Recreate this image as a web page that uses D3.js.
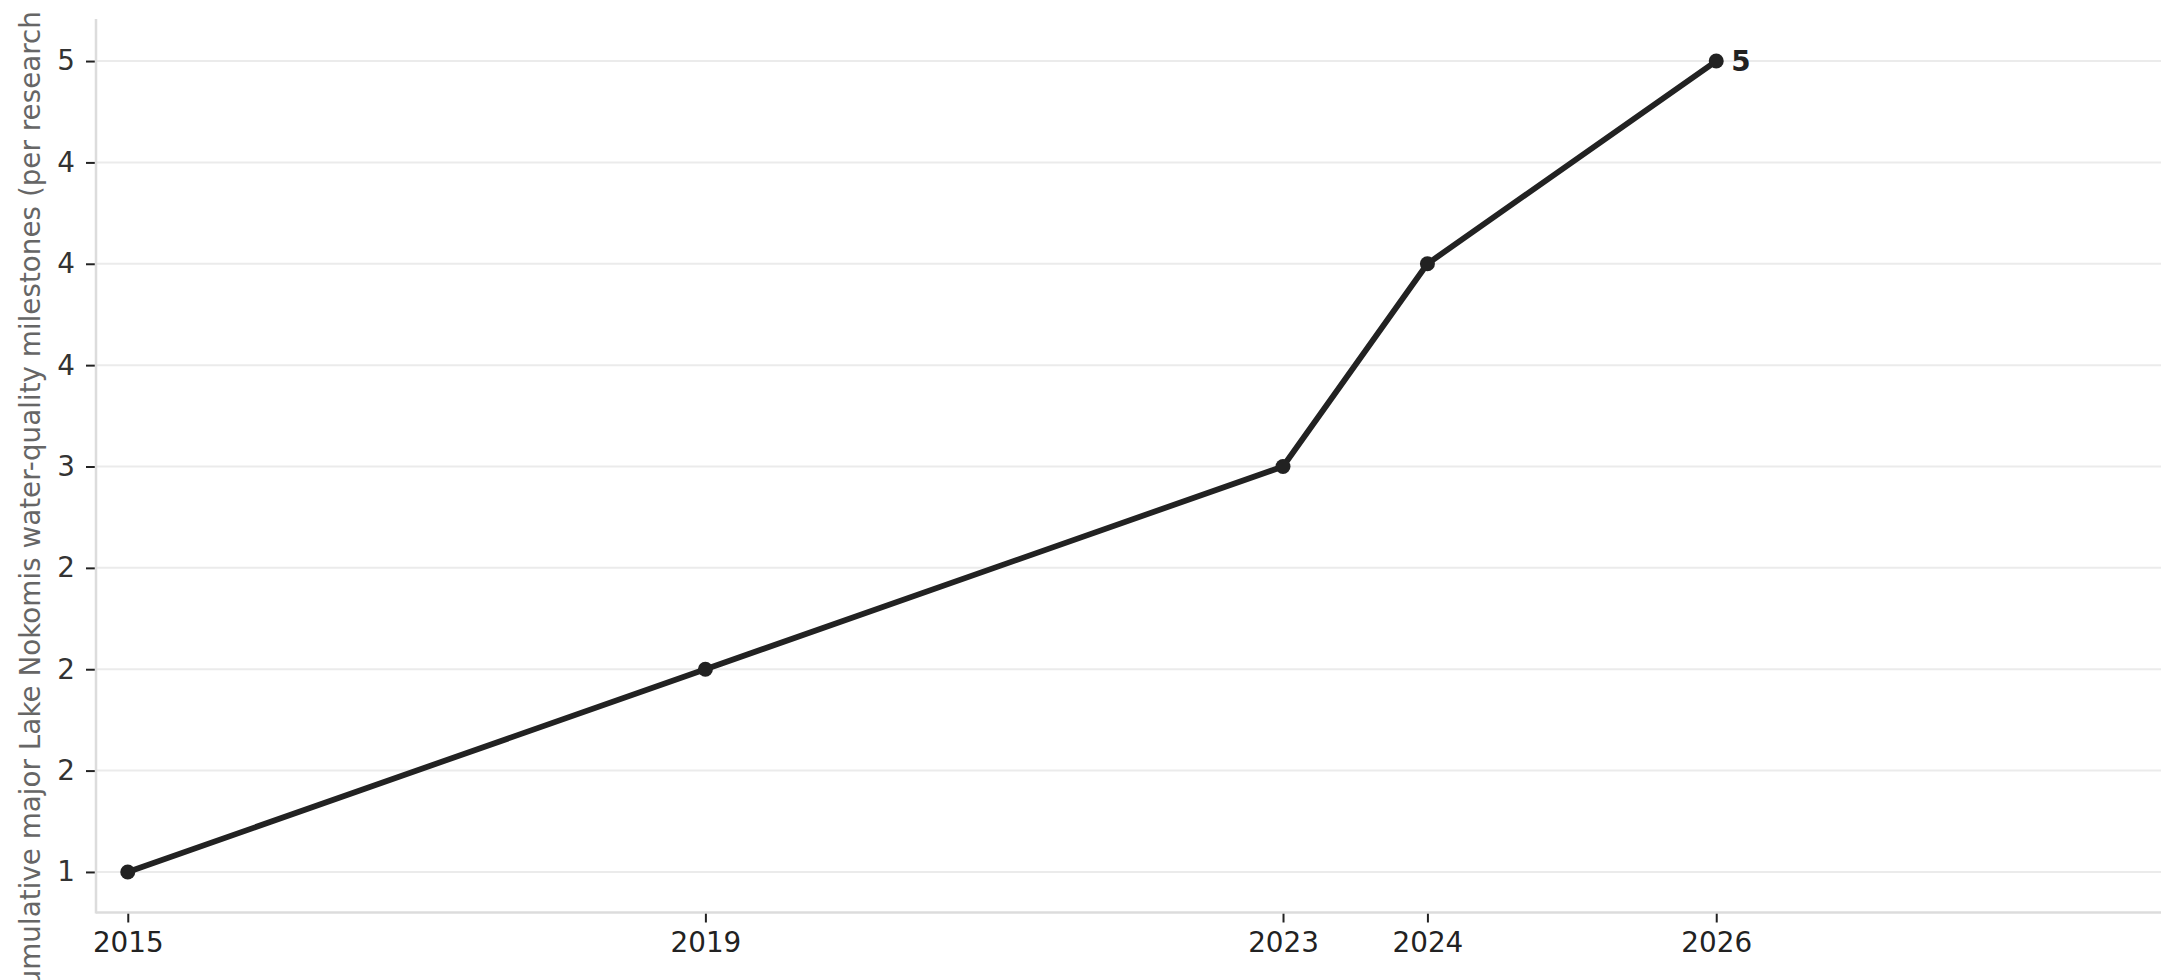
<!DOCTYPE html>
<html>
<head>
<meta charset="utf-8">
<script src="https://cdn.jsdelivr.net/npm/d3@7"></script>
<style>
  html, body { margin: 0; padding: 0; background: #fff; }
  svg { display: block; }
</style>
</head>
<body>
<svg id="chart" width="2179" height="980"></svg>
<script>
// ---- data ----
const years = [2015, 2019, 2023, 2024, 2026];
const milestones = [1, 2, 3, 4, 5];
const yTickValues = [1, 1.5, 2, 2.5, 3, 3.5, 4, 4.5, 5];
const yTickLabels = ["1", "2", "2", "2", "3", "4", "4", "4", "5"];
const xTickValues = [2015, 2019, 2023, 2024, 2026];
const xTickLabels = ["2015", "2019", "2023", "2024", "2026"];
const xDomain = [2014.78, 2029.08];
const yDomain = [0.8, 5.2];
const yLabel = "Cumulative major Lake Nokomis water-quality milestones (per research";
const endLabel = "5";

(function () {
// ---- layout ----
const mLeft = 96, mRight = 2161, mTop = 20.5, mBottom = 912.5;
const font = "DejaVu Sans, sans-serif";
const fs = 27.8;

const svg = d3.select("#chart");
const x = d3.scaleLinear().domain(xDomain).range([mLeft, mRight]);
const y = d3.scaleLinear().domain(yDomain).range([mBottom, mTop]);

// grid
svg.append("g").selectAll("line").data(yTickValues).join("line")
  .attr("x1", mLeft).attr("x2", mRight)
  .attr("y1", d => y(d)).attr("y2", d => y(d))
  .attr("stroke", "#ebebeb").attr("stroke-width", 2);

// y axis
const yAxis = d3.axisLeft(y).tickValues(yTickValues)
  .tickFormat((d, i) => yTickLabels[i]).tickSize(10).tickPadding(11);
const gy = svg.append("g").attr("transform", `translate(${mLeft},0)`).call(yAxis);
gy.select(".domain").remove();
gy.selectAll(".tick line").attr("stroke", "#222").attr("stroke-width", 2);
gy.selectAll(".tick text").attr("fill", "#333").attr("font-family", font).attr("font-size", fs);

// x axis
const xAxis = d3.axisBottom(x).tickValues(xTickValues)
  .tickFormat((d, i) => xTickLabels[i]).tickSize(10).tickPadding(10);
const gx = svg.append("g").attr("transform", `translate(0,${mBottom})`).call(xAxis);
gx.select(".domain").remove();
gx.selectAll(".tick line").attr("stroke", "#222").attr("stroke-width", 2);
gx.selectAll(".tick text").attr("fill", "#222").attr("font-family", font).attr("font-size", fs);

// spines
svg.append("line").attr("x1", mLeft).attr("x2", mLeft).attr("y1", mTop - 1.5).attr("y2", mBottom + 1)
  .attr("stroke", "#dcdcdc").attr("stroke-width", 2.5);
svg.append("line").attr("x1", mLeft).attr("x2", mRight).attr("y1", mBottom).attr("y2", mBottom)
  .attr("stroke", "#dcdcdc").attr("stroke-width", 2.5);

// y label (clipped by the figure edges as in the reference)
svg.append("text")
  .attr("transform", `translate(40,11) rotate(-90)`)
  .attr("text-anchor", "end")
  .attr("font-family", font).attr("font-size", fs)
  .attr("fill", "#666")
  .text(yLabel);

// line
const pts = years.map((yr, i) => ({ yr, v: milestones[i] }));
svg.append("path").datum(pts)
  .attr("fill", "none").attr("stroke", "#222").attr("stroke-width", 5.8)
  .attr("stroke-linejoin", "round")
  .attr("d", d3.line().x(d => x(d.yr)).y(d => y(d.v)));

svg.append("g").selectAll("circle").data(pts).join("circle")
  .attr("cx", d => x(d.yr)).attr("cy", d => y(d.v)).attr("r", 7.5)
  .attr("fill", "#222");

// end label
const last = pts[pts.length - 1];
svg.append("text")
  .attr("x", x(last.yr) + 15).attr("y", y(last.v))
  .attr("dy", "0.35em")
  .attr("font-family", font).attr("font-size", fs).attr("font-weight", "bold")
  .attr("fill", "#222")
  .text(endLabel);
})();
</script>
</body>
</html>
